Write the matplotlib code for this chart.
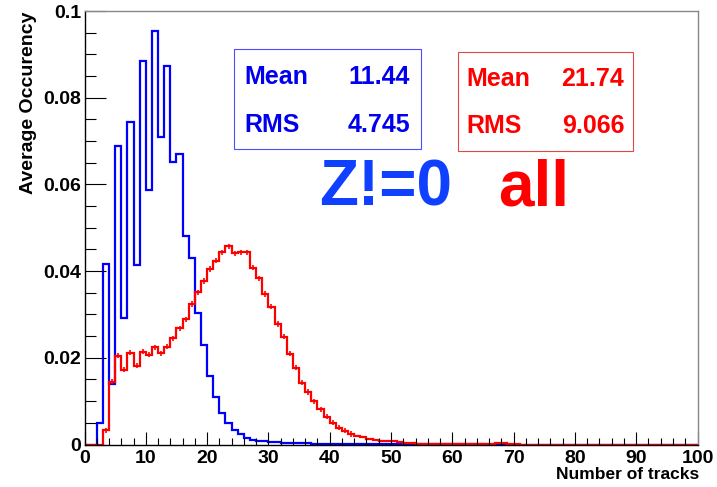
import numpy as np
import matplotlib
matplotlib.use("Agg")
from matplotlib import pyplot as plt
from matplotlib.patches import Rectangle
from matplotlib.ticker import MultipleLocator

plt.rcParams['font.family'] = ['Liberation Sans', 'DejaVu Sans']
plt.rcParams['font.weight'] = 'bold'

# bin edges 0..100, one unit wide
edges = np.arange(0, 101)

# Z!=0 sample (blue)
blue_vals = [0, 0, 0.0050, 0.0416, 0.0139, 0.0689, 0.0291, 0.0743, 0.0414, 0.0885,
             0.0587, 0.0955, 0.0710, 0.0874, 0.0652, 0.0670, 0.0482, 0.0431, 0.0304, 0.0230,
             0.0159, 0.0110, 0.0073, 0.0050, 0.0033, 0.0024, 0.0014, 0.0010, 0.0007, 0.0007,
             0.0005, 0.0005, 0.0004, 0.0003, 0.0003, 0.0003, 0.0003, 0.0002, 0.0002, 0.0002,
             0.0002, 0.0002, 0.0001, 0.0001, 0.0001, 0.0001, 0.0001, 0.0001, 0.0001, 0.0001,
             0.0001, 0.0001, 0.0001, 0.0001, 0.0001, 0.0001, 0.0001, 0.0001, 0.0001, 0.0001,
             0.0001, 0.0001, 0.0001, 0.0001, 0.0001, 0.0001, 0, 0, 0, 0] + [0] * 30

# all tracks (red)
red_vals = [0, 0, 0, 0.0033, 0.0145, 0.0205, 0.0173, 0.0212, 0.0182, 0.0214,
            0.0207, 0.0224, 0.0210, 0.0226, 0.0245, 0.0268, 0.0289, 0.0324, 0.0351, 0.0377,
            0.0405, 0.0424, 0.0443, 0.0457, 0.0441, 0.0443, 0.0443, 0.0408, 0.0383, 0.0347,
            0.0318, 0.0278, 0.0249, 0.0209, 0.0177, 0.0143, 0.0121, 0.0100, 0.0081, 0.0064,
            0.0050, 0.0039, 0.0032, 0.0024, 0.0020, 0.0017, 0.0013, 0.0010, 0.0009, 0.0008,
            0.0007, 0.0005, 0.0004, 0.0003, 0.0002, 0.0002, 0.0002, 0.0002, 0.0002, 0.0002,
            0.0001, 0.0001, 0.0001, 0.0001, 0.0001, 0.0001, 0.0001, 0.0003, 0.0003, 0.0001,
            0.0001] + [0] * 29
red_err = 0.0006

xtick_vals = [0, 10, 20, 30, 40, 50, 60, 70, 80, 90, 100]
ytick_vals = [0, 0.02, 0.04, 0.06, 0.08, 0.1]
ytick_labels = ['0', '0.02', '0.04', '0.06', '0.08', '0.1']

blue_stats = ('11.44', '4.745')
red_stats = ('21.74', '9.066')

W, H = 717, 487
fig = plt.figure(figsize=(W / 100, H / 100), dpi=100)
ax = fig.add_axes([84.5 / W, 1 - 444.5 / H, 613 / W, 433.5 / H])

ax.stairs(blue_vals, edges, color='#0000ff', lw=1.6)
ax.stairs(red_vals, edges, color='#ff0000', lw=1.6)
centers = edges[:-1] + 0.5
red_arr = np.array(red_vals)
m = red_arr > 0.002
ax.errorbar(centers[m], red_arr[m], yerr=red_err, fmt='none', ecolor='#ff0000', elinewidth=1.2)

ax.set_xlim(0, 100)
ax.set_ylim(0, 0.1)
ax.set_xticks(xtick_vals)
ax.set_xticklabels([str(v) for v in xtick_vals])
ax.set_yticks(ytick_vals)
ax.set_yticklabels(ytick_labels)
ax.xaxis.set_minor_locator(MultipleLocator(2))
ax.yaxis.set_minor_locator(MultipleLocator(0.005))
ax.tick_params(axis='both', which='both', direction='in', width=0.8, labelsize=14,
               top=False, right=False)
ax.tick_params(axis='y', which='major', length=15, pad=2.5)
ax.tick_params(axis='y', which='minor', length=8)
ax.tick_params(axis='x', which='major', length=9.5, pad=4)
ax.tick_params(axis='x', which='minor', length=4.7)
for s in ['top', 'right']:
    ax.spines[s].set_color('#888888')
    ax.spines[s].set_linewidth(1)
for s in ['left', 'bottom']:
    ax.spines[s].set_linewidth(1)

ax.set_ylabel('Average Occurency', loc='top', fontsize=14, fontweight='bold')
ax.yaxis.set_label_coords(-0.078, 1.0)
ax.set_xlabel('Number of tracks', loc='right', fontsize=12.5, fontweight='bold')
ax.xaxis.set_label_coords(1.003, -0.051)


def fx(px):
    return px / W


def fy(py):
    return 1 - py / H


# stat boxes
fig.patches.append(Rectangle((fx(234.3), fy(149.3)), (421 - 234.3) / W, (149.3 - 49) / H,
                             transform=fig.transFigure, fill=False, ec='#4d4dff', lw=0.8))
fig.patches.append(Rectangle((fx(457.7), fy(151)), (632.7 - 457.7) / W, (151 - 51.7) / H,
                             transform=fig.transFigure, fill=False, ec='#e04848', lw=0.8))
for lab, val, yb in [('Mean', blue_stats[0], 84.3), ('RMS', blue_stats[1], 132.3)]:
    fig.text(fx(244), fy(yb), lab, color='#0000ee', fontsize=18, fontweight='bold', va='baseline')
    fig.text(fx(410), fy(yb), val, color='#0000ee', fontsize=18, fontweight='bold',
             va='baseline', ha='right')
for lab, val, yb in [('Mean', red_stats[0], 85.7), ('RMS', red_stats[1], 133.3)]:
    fig.text(fx(466), fy(yb), lab, color='#ff0000', fontsize=18, fontweight='bold', va='baseline')
    fig.text(fx(624.3), fy(yb), val, color='#ff0000', fontsize=18, fontweight='bold',
             va='baseline', ha='right')

fig.text(fx(319), fy(206), 'Z!=0', color='#1040ff', fontsize=46, fontweight='bold', va='baseline')
fig.text(fx(498), fy(206), 'all', color='#ff0000', fontsize=46, fontweight='bold', va='baseline')

fig.savefig('out.png', dpi=100)
